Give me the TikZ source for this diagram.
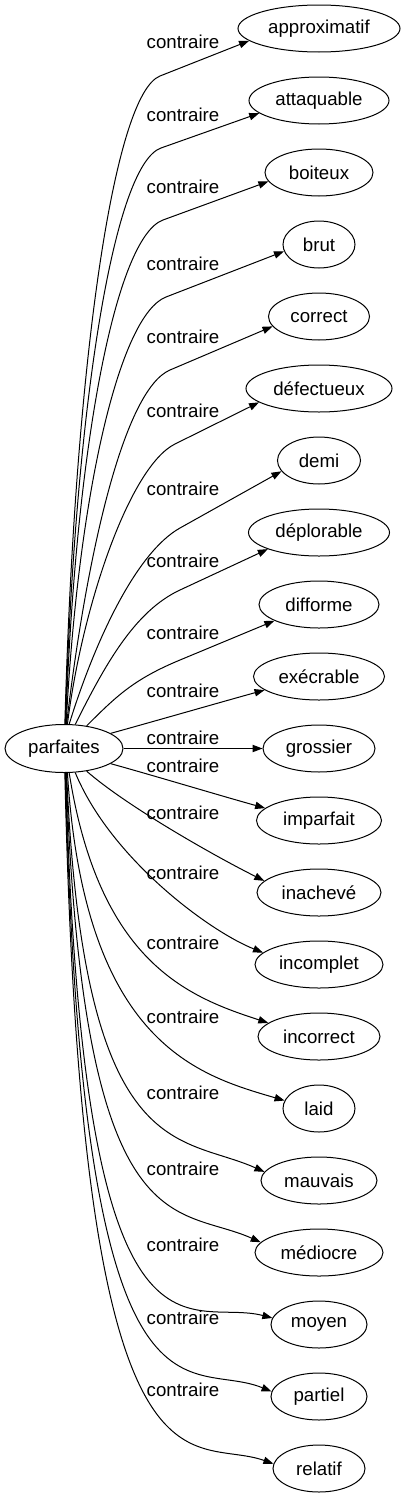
\documentclass[tikz,border=0pt]{standalone}
\usepackage{fontspec}
\setmainfont{Liberation Sans}
\usetikzlibrary{shapes.geometric,arrows.meta,calc}
% curved edge: target, start angle, tip angle, c1 offset, c2 offset
\newcommand\cedge[7]{%
  \draw[edge] (p.#2) .. controls ($(p.#2)+(#4,#5)$) and ($(#1.#3)+(#6,#7)$) .. (#1.#3);}
% upper edge through a bend coordinate: target, start angle, tip angle, bend, c1 offset
\newcommand\uedge[6]{%
  \draw[edge] (p.#2) .. controls ($(p.#2)+(#5,#6)$) and ($(#4)!-37.5pt!(#1.#3)$) .. (#4) -- (#1.#3);}
\begin{document}
\begin{tikzpicture}[x=0.75pt,y=-0.75pt,
  tgt/.style={ellipse, draw, line width=0.75pt, inner sep=0pt, minimum height=35.25pt,
    font=\fontsize{14pt}{16pt}\selectfont},
  lbl/.style={inner sep=0pt, font=\fontsize{14pt}{16pt}\selectfont},
  edge/.style={line width=0.75pt, -{Triangle[length=7.5pt,width=5.5pt]}}]
\useasboundingbox (0,0) rectangle (406,1499);

\node[tgt, minimum width=88.5pt, minimum height=36pt] (p) at (64,748.5) {parfaites};

\node[tgt, minimum width=121.5pt] (n1)  at (319,28.5)   {approximatif};
\node[tgt, minimum width=105pt]   (n2)  at (319,100.5)  {attaquable};
\node[tgt, minimum width=81pt]    (n3)  at (319,172.5)  {boiteux};
\node[tgt, minimum width=54pt]    (n4)  at (319,244.5)  {brut};
\node[tgt, minimum width=75.75pt] (n5)  at (319,316.5)  {correct};
\node[tgt, minimum width=109.5pt] (n6)  at (319,388.5)  {défectueux};
\node[tgt, minimum width=62.25pt] (n7)  at (319,460.5)  {demi};
\node[tgt, minimum width=105.75pt](n8)  at (319,532.5)  {déplorable};
\node[tgt, minimum width=90pt]    (n9)  at (319,604.5)  {difforme};
\node[tgt, minimum width=98.25pt] (n10) at (319,676.5)  {exécrable};
\node[tgt, minimum width=84pt]    (n11) at (319,748.5)  {grossier};
\node[tgt, minimum width=93.75pt] (n12) at (319,820.5)  {imparfait};
\node[tgt, minimum width=93pt]    (n13) at (319,892.5)  {inachevé};
\node[tgt, minimum width=96pt]    (n14) at (319,964.5)  {incomplet};
\node[tgt, minimum width=91.5pt]  (n15) at (319,1036.5) {incorrect};
\node[tgt, minimum width=54pt]    (n16) at (319,1108.5) {laid};
\node[tgt, minimum width=87pt]    (n17) at (319,1180.5) {mauvais};
\node[tgt, minimum width=96pt]    (n18) at (319,1252.5) {médiocre};
\node[tgt, minimum width=72pt]    (n19) at (319,1324.5) {moyen};
\node[tgt, minimum width=72pt]    (n20) at (319,1396.5) {partiel};
\node[tgt, minimum width=69pt]    (n21) at (319,1468.5) {relatif};

\node[lbl] (l1)  at (183,42)   {contraire};
\node[lbl] (l2)  at (183,115)  {contraire};
\node[lbl] (l3)  at (183,187)  {contraire};
\node[lbl] (l4)  at (183,264)  {contraire};
\node[lbl] (l5)  at (183,337)  {contraire};
\node[lbl] (l6)  at (183,411)  {contraire};
\node[lbl] (l7)  at (183,489)  {contraire};
\node[lbl] (l8)  at (183,561)  {contraire};
\node[lbl] (l9)  at (183,633)  {contraire};
\node[lbl] (l10) at (183,691)  {contraire};
\node[lbl] (l11) at (183,738)  {contraire};
\node[lbl] (l12) at (183,766)  {contraire};
\node[lbl] (l13) at (183,813)  {contraire};
\node[lbl] (l14) at (183,873)  {contraire};
\node[lbl] (l15) at (183,943)  {contraire};
\node[lbl] (l16) at (183,1017) {contraire};
\node[lbl] (l17) at (183,1093) {contraire};
\node[lbl] (l18) at (183,1169) {contraire};
\node[lbl] (l19) at (183,1245) {contraire};
\node[lbl] (l20) at (183,1318) {contraire};
\node[lbl] (l21) at (183,1390) {contraire};

\coordinate (b1) at (160,76);
\coordinate (b2) at (161,148);
\coordinate (b3) at (163,220);
\coordinate (b4) at (166,297);
\coordinate (b5) at (170,370);
\coordinate (b6) at (175,444);
\coordinate (b7) at (180,528);
\coordinate (b8) at (180,590);
\coordinate (b9) at (180,660);

\uedge{n1}{88}{190}{b1}{10}{-360}
\uedge{n2}{87}{192}{b2}{10}{-320}
\uedge{n3}{86}{190}{b3}{10}{-280}
\uedge{n4}{85}{191}{b4}{12}{-230}
\uedge{n5}{84}{192}{b5}{20}{-170}
\uedge{n6}{82}{193}{b6}{15}{-120}
\uedge{n7}{78}{196}{b7}{26}{-84}
\uedge{n8}{65}{198}{b8}{30}{-60}
\uedge{n9}{45}{200}{b9}{30}{-30}
\cedge{n10}{18}{194}{40}{-11}{-40}{11}
\draw[edge] (p.east) -- (n11.west);
\cedge{n12}{342}{167}{40}{11}{-40}{-11}
\cedge{n13}{315}{168}{40}{35}{-50}{-25}
\cedge{n14}{295}{168}{35}{85}{-55}{-22}
\cedge{n15}{282}{165}{30}{190}{-80}{-26}
\cedge{n16}{278}{167.5}{17}{272}{-85}{-25}
\cedge{n17}{276}{171.6}{17}{393}{-85}{-38}
\cedge{n18}{275}{170.7}{17}{478}{-85}{-38}
\cedge{n19}{274}{172}{17}{628}{-85}{-22}
\cedge{n20}{273}{174}{17}{688}{-85}{-35}
\cedge{n21}{272}{174}{17}{758}{-85}{-30}
\end{tikzpicture}
\end{document}
